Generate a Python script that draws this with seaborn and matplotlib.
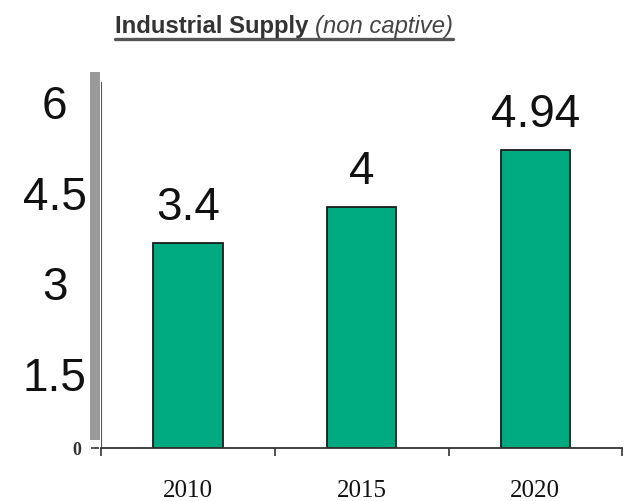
import matplotlib
matplotlib.use("Agg")
import matplotlib.pyplot as plt
import matplotlib.transforms as mtransforms
from matplotlib.lines import Line2D
import seaborn as sns

years = ["2010", "2015", "2020"]
supply = [3.4, 4.0, 4.94]
bar_text = ["3.4", "4", "4.94"]
y_ticks = [0, 1.5, 3, 4.5, 6]
y_tick_text = ["0", "1.5", "3", "4.5", "6"]

sns.set_style("white")
plt.rcParams["font.family"] = ["Liberation Sans", "DejaVu Sans"]

fig = plt.figure(figsize=(6.33, 5.02), dpi=100)
ax = fig.add_axes([0.1596, 0.1056, 0.8234, 0.751])

sns.barplot(x=years, y=supply, color="#00aa80", saturation=1, width=0.4,
            edgecolor="#1a1a1a", linewidth=1.3, ax=ax)
ax.set_xlim(-0.5, 2.5)
ax.set_ylim(0, 6.25)
ax.set_xlabel("")
ax.set_ylabel("")

ax.bar_label(ax.containers[0], labels=bar_text, padding=10, fontsize=33,
             family="Liberation Sans", color="#111")

# spines
for s in ["top", "right"]:
    ax.spines[s].set_visible(False)
ax.spines["bottom"].set_color("#333")
ax.spines["bottom"].set_linewidth(1.3)
ax.spines["left"].set_color("#9a9a9a")
ax.spines["left"].set_linewidth(7.2)
ax.spines["left"].set_position(("outward", 4.3))
ax.spines["left"].set_bounds(0.22, 6.15)
ax.axvline(-0.5, ymax=0.97, color="#555", lw=0.8)

# y ticks
ax.set_yticks(y_ticks)
ax.set_yticklabels(y_tick_text)
ax.tick_params(axis="y", which="major", length=0, pad=29)
ax.yaxis.remove_overlapping_locs = False
ax.set_yticks([0], minor=True)
ax.tick_params(axis="y", which="minor", left=True, length=6, width=1.2,
               color="#333", direction="inout")
shift = mtransforms.ScaledTranslation(0, -0.15, fig.dpi_scale_trans)
for i, lab in enumerate(ax.get_yticklabels()):
    lab.set_horizontalalignment("center")
    if i == 0:
        lab.set_fontfamily("Liberation Serif")
        lab.set_fontweight("bold")
        lab.set_fontsize(13)
        lab.set_color("#333")
        lab.set_transform(lab.get_transform()
                          + mtransforms.ScaledTranslation(0.22, 0, fig.dpi_scale_trans))
    else:
        lab.set_fontfamily("Liberation Sans")
        lab.set_fontsize(33)
        lab.set_color("#111")
        lab.set_transform(lab.get_transform() + shift)

# x ticks
ax.tick_params(axis="x", which="major", length=0, pad=22)
ax.set_xticks([-0.5, 0.5, 1.5, 2.5], minor=True)
ax.tick_params(axis="x", which="minor", bottom=True, length=6, width=1.2,
               color="#333", direction="out")
for lab in ax.get_xticklabels():
    lab.set_fontfamily("Liberation Serif")
    lab.set_fontsize(18)
    lab.set_color("#111")

# title with underline
t1 = fig.text(0.1817, 0.934, "Industrial Supply", fontsize=17.2, fontweight="bold",
              color="#333", family="Liberation Sans")
fig.canvas.draw()
bb = t1.get_window_extent()
x2 = (bb.x1 + 7) / fig.bbox.width
t2 = fig.text(x2, 0.934, "(non captive)", fontsize=17.2, fontstyle="italic",
              color="#444", family="Liberation Sans")
fig.canvas.draw()
bb2 = t2.get_window_extent()
fig.add_artist(Line2D([0.1817, bb2.x1 / fig.bbox.width], [0.92, 0.92],
                      color="#555", lw=2.4, transform=fig.transFigure))

fig.savefig("out.png", dpi=100)
